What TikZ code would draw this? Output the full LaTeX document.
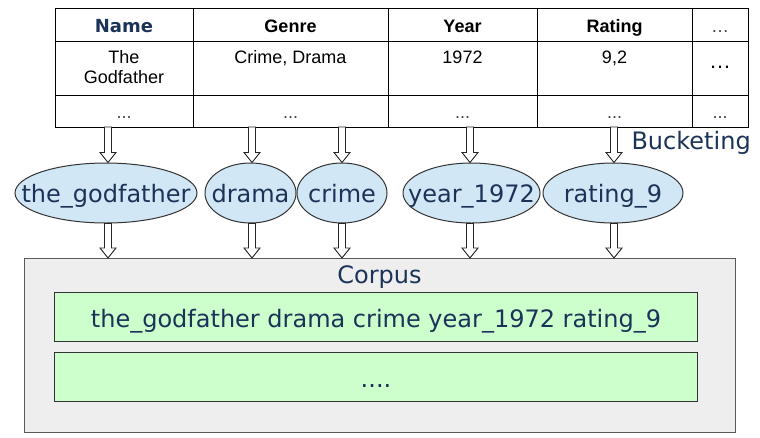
\documentclass[tikz,border=0pt]{standalone}
\usepackage{fontspec}
\setmainfont{Liberation Sans}
\newfontfamily\dejavu{DejaVu Sans}
\usetikzlibrary{calc,shapes.geometric}
\definecolor{navy}{HTML}{1B3358}
\definecolor{ellfill}{HTML}{D2E7F5}
\definecolor{corpfill}{HTML}{EEEEEE}
\definecolor{linefill}{HTML}{CCFFCC}
\tikzset{
  cell/.style={inner sep=0pt, anchor=base, font=\fontsize{18}{20}\selectfont, text=black},
  hcell/.style={cell, font=\bfseries\fontsize{18}{20}\selectfont},
  ellbg/.style={ellipse, draw=black!80, fill=ellfill, inner sep=0pt, minimum height=60pt, line width=1pt},
  elltext/.style={inner sep=0pt, text=navy, font=\dejavu\fontsize{24}{26}\selectfont, text height=18pt, text depth=0pt},
  bigtext/.style={inner sep=0pt, text=navy, font=\dejavu\fontsize{24}{26}\selectfont},
  linebox/.style={draw=black!80, fill=linefill, line width=1pt, anchor=north west, minimum width=643pt, minimum height=49pt, inner sep=0pt, text=navy, font=\dejavu\fontsize{24}{26}\selectfont, text height=21pt, text depth=0pt},
  barrowstyle/.style={draw=black!85, fill=white, line width=0.9pt, line join=miter},
}
\newcommand\barrow[2]{\path[barrowstyle] let \p1=(#1), \p2=(#2) in
  (\x1-3.5pt,\y1) -- (\x1-3.5pt,\y2+10pt) -- (\x1-8pt,\y2+10pt) -- (\x1,\y2) --
  (\x1+8pt,\y2+10pt) -- (\x1+3.5pt,\y2+10pt) -- (\x1+3.5pt,\y1) -- cycle;}
\begin{document}
\begin{tikzpicture}[x=1pt,y=-1pt,line width=1pt]
\useasboundingbox (0,0) rectangle (760,437);
% table grid
\draw (55,8) rectangle (748,127);
\draw (55,41) -- (748,41) (55,95) -- (748,95);
\draw (193,8) -- (193,127) (388,8) -- (388,127) (537,8) -- (537,127) (692,8) -- (692,127);
% header
\node[cell, font=\dejavu\bfseries\fontsize{18}{20}\selectfont, text=navy] (hname) at (124,32) {Name};
\node[hcell] (hgenre) at (290.5,32) {Genre};
\node[hcell] (hyear) at (462.5,32) {Year};
\node[hcell] (hrating) at (614.5,32) {Rating};
\node[cell, text=black!75] (hmore) at (720,32) {…};
% row 2
\node[cell] (rname1) at (124,63) {The};
\node[cell] (rname2) at (124,83) {Godfather};
\node[cell] (rgenre) at (290.5,63) {Crime, Drama};
\node[cell] (ryear) at (462.5,63) {1972};
\node[cell] (rrating) at (614.5,63) {9,2};
\node[cell, font=\fontsize{22}{24}\selectfont] (rmore) at (720,68) {…};
% row 3
\node[cell, text=black!75] (d1) at (124,118) {...};
\node[cell, text=black!75] (d2) at (290.5,118) {...};
\node[cell, text=black!75] (d3) at (462.5,118) {...};
\node[cell, text=black!75] (d4) at (614.5,118) {...};
\node[cell, text=black!75] (d5) at (720,118) {...};
% bucketing label
\node[bigtext, anchor=base west] (buck) at (631,149) {Bucketing};
% ellipses
\node[ellbg, minimum width=182pt, label={[elltext]center:the\_godfather}] (gf) at (106,193) {};
\node[ellbg, minimum width=91pt, label={[elltext]center:drama}] (drama) at (250.5,193) {};
\node[ellbg, minimum width=90pt, label={[elltext]center:crime}] (crime) at (342,193) {};
\node[ellbg, minimum width=137pt, label={[elltext]center:year\_1972}] (year) at (471.5,193) {};
\node[ellbg, minimum width=140pt, label={[elltext]center:rating\_9}] (rating) at (613,193) {};
% corpus
\node[draw=black!65, fill=corpfill, anchor=north west, minimum width=711pt, minimum height=174pt, inner sep=0pt] (corpus) at (24,258) {};
\node[bigtext, anchor=base] (corplabel) at (379.5,283) {Corpus};
\node[linebox] (line1) at (54,292) {the\_godfather drama crime year\_1972 rating\_9};
\node[linebox] (line2) at (54,352) {....};
% arrow columns
\coordinate (c1) at (108,127);
\coordinate (c2) at (252,127);
\coordinate (c3) at (342,127);
\coordinate (c4) at (470,127);
\coordinate (c5) at (614,127);
\barrow{c1}{c1 |- gf.north}
\barrow{c2}{c2 |- drama.north}
\barrow{c3}{c3 |- crime.north}
\barrow{c4}{c4 |- year.north}
\barrow{c5}{c5 |- rating.north}
\barrow{c1 |- gf.south}{c1 |- corpus.north}
\barrow{c2 |- drama.south}{c2 |- corpus.north}
\barrow{c3 |- crime.south}{c3 |- corpus.north}
\barrow{c4 |- year.south}{c4 |- corpus.north}
\barrow{c5 |- rating.south}{c5 |- corpus.north}
\end{tikzpicture}
\end{document}
